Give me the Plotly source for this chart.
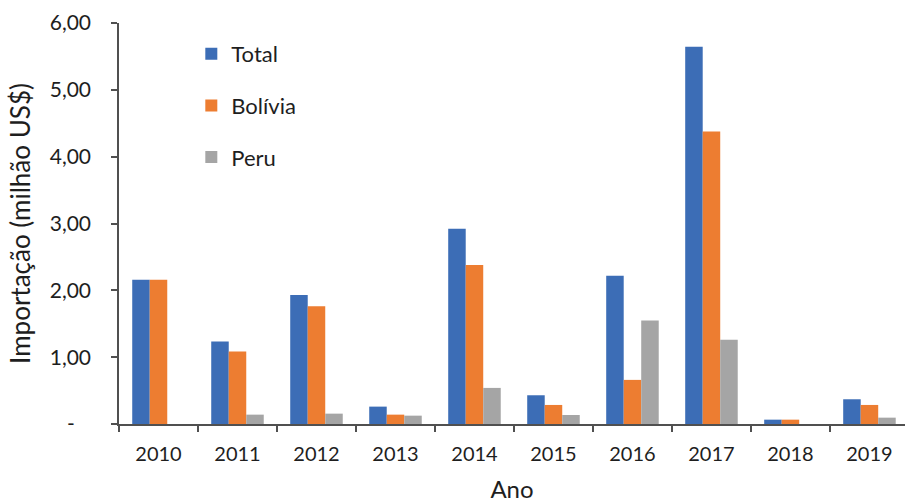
import plotly.graph_objects as go

# Importação anual (milhão US$)
anos = ["2010", "2011", "2012", "2013", "2014", "2015", "2016", "2017", "2018", "2019"]
total = [2.16, 1.235, 1.93, 0.26, 2.92, 0.43, 2.22, 5.645, 0.065, 0.37]
bolivia = [2.16, 1.085, 1.76, 0.14, 2.38, 0.285, 0.66, 4.375, 0.065, 0.285]
peru = [0.0, 0.14, 0.155, 0.125, 0.54, 0.135, 1.55, 1.26, 0.0, 0.095]

y_ticks = [0, 1, 2, 3, 4, 5, 6]
y_ticktext = ["-\u00a0\u00a0\u00a0", "1,00", "2,00", "3,00", "4,00", "5,00", "6,00"]

series = [
    ("Total", total, "#3C6DB6"),
    ("Bolívia", bolivia, "#ED7D31"),
    ("Peru", peru, "#A5A5A5"),
]

FONT = "Lato, 'Open Sans', sans-serif"
TXT = "#1e1e1e"
AXIS = "#505050"

fig = go.Figure()
for name, vals, color in series:
    fig.add_trace(go.Bar(
        x=anos, y=vals, name=name, legendgroup=name,
        marker=dict(color=color, line=dict(width=0)),
    ))

fig.update_layout(
    width=905, height=503,
    margin=dict(l=119, r=0, t=23, b=79),
    paper_bgcolor="white", plot_bgcolor="white",
    font=dict(family=FONT, color=TXT, size=20),
    barmode="group", bargap=0.335, bargroupgap=0,
    showlegend=True,
    legend=dict(
        x=0.092, y=0.975, xanchor="left", yanchor="top",
        bgcolor="rgba(0,0,0,0)", font=dict(size=22, color=TXT),
        traceorder="grouped", tracegroupgap=20,
    ),
    xaxis=dict(
        type="category", range=[-0.5, 9.45],
        showline=True, linecolor=AXIS, linewidth=1.5,
        ticks="outside", tickson="boundaries", ticklen=6, tickcolor=AXIS, tickwidth=1.5,
        showgrid=False, zeroline=False,
        tickfont=dict(size=20), ticklabelstandoff=11,
        title=dict(text="Ano", font=dict(size=24), standoff=18),
    ),
    yaxis=dict(
        range=[0, 6], tickvals=y_ticks, ticktext=y_ticktext,
        showline=True, linecolor=AXIS, linewidth=1.5,
        ticks="outside", ticklen=6, tickcolor=AXIS, tickwidth=1.5,
        showgrid=False, zeroline=False,
        tickfont=dict(size=21), ticklabelstandoff=16,
        title=dict(text="Importação (milhão US$)", font=dict(size=26), standoff=12),
    ),
)

fig.write_html("out.html")
